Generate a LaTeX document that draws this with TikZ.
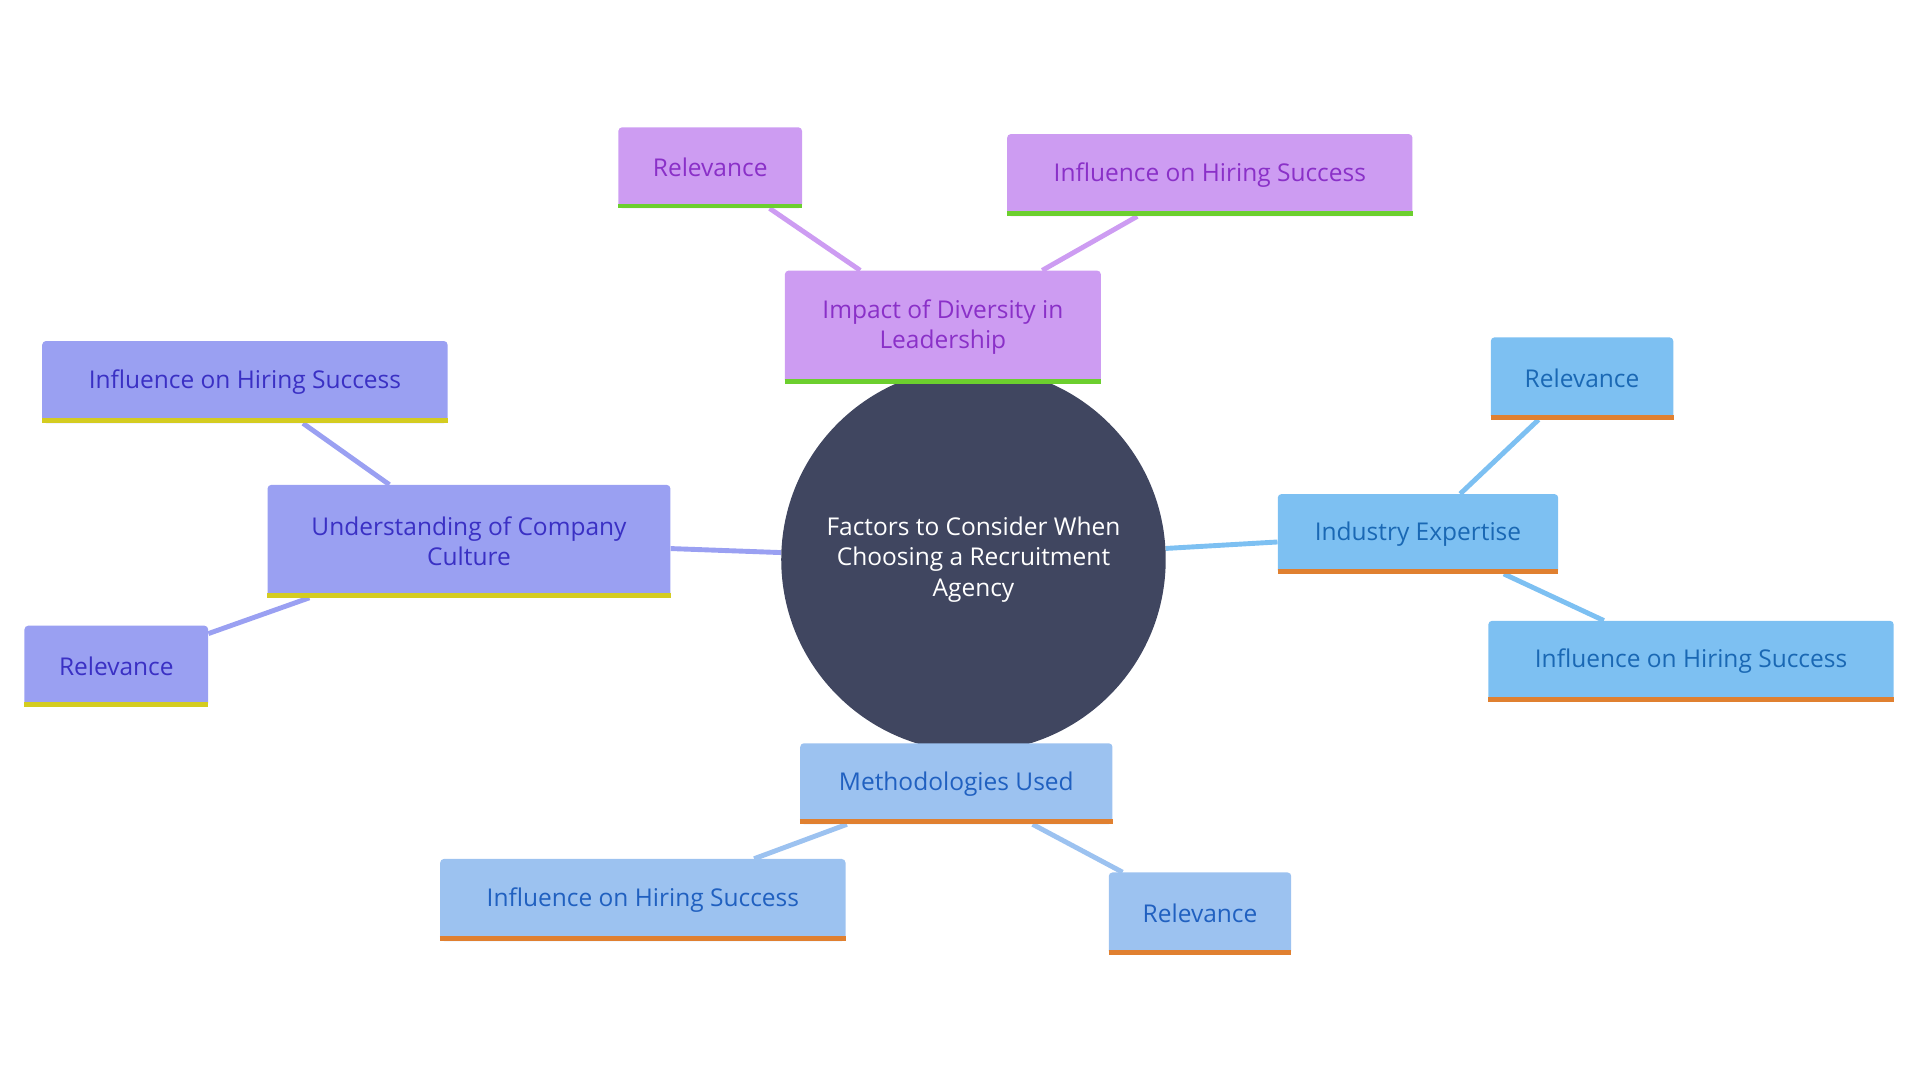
\documentclass[tikz,border=0pt]{standalone}
\usepackage{fontspec}
\setmainfont{Open Sans}
\usetikzlibrary{backgrounds}
\definecolor{cen}{HTML}{404660}
\definecolor{pf}{HTML}{CD9CF2}\definecolor{pt}{HTML}{8A30C8}\definecolor{pb}{HTML}{6CCF2E}
\definecolor{bf}{HTML}{9AA0F2}\definecolor{bt}{HTML}{3A30C4}\definecolor{bb}{HTML}{D4CC20}
\definecolor{cf}{HTML}{7DC0F2}\definecolor{ct}{HTML}{1A68B4}\definecolor{ob}{HTML}{E08030}
\definecolor{mf}{HTML}{9CC2F0}\definecolor{mt}{HTML}{2060C0}
\begin{document}
\begin{tikzpicture}[x=1pt,y=-1pt,
 box/.style={rectangle,rounded corners=3pt,inner sep=0pt,align=center,font=\fontsize{20}{25}\selectfont},
 edge/.style={line width=4pt}]
\useasboundingbox (0,0) rectangle (1568,882);
\node[circle,fill=cen,minimum size=314pt,text=white,align=center,font=\fontsize{20}{25}\selectfont] (c) at (795,457) {Factors to Consider When\\Choosing a Recruitment\\Agency};
% purple
\node[box,fill=pf,text=pt,minimum width=258pt,minimum height=92pt] (d) at (770,267) {Impact of Diversity in\\Leadership};
\node[box,fill=pf,text=pt,minimum width=150pt,minimum height=66pt] (d1) at (580,137) {Relevance};
\node[box,fill=pf,text=pt,minimum width=331pt,minimum height=67pt] (d2) at (988,143) {Influence on Hiring Success};
% blue-violet
\node[box,fill=bf,text=bt,minimum width=329pt,minimum height=92pt] (u) at (383,442) {Understanding of Company\\Culture};
\node[box,fill=bf,text=bt,minimum width=331pt,minimum height=67pt] (u1) at (200,312) {Influence on Hiring Success};
\node[box,fill=bf,text=bt,minimum width=150pt,minimum height=66pt] (u2) at (95,544) {Relevance};
% light blue
\node[box,fill=cf,text=ct,minimum width=229pt,minimum height=65pt] (i) at (1158,436) {Industry Expertise};
\node[box,fill=cf,text=ct,minimum width=149pt,minimum height=67pt] (i1) at (1292,309) {Relevance};
\node[box,fill=cf,text=ct,minimum width=331pt,minimum height=66pt] (i2) at (1381,540) {Influence on Hiring Success};
% method
\node[box,fill=mf,text=mt,minimum width=255pt,minimum height=66pt] (m) at (781,640) {Methodologies Used};
\node[box,fill=mf,text=mt,minimum width=331pt,minimum height=67pt] (m1) at (525,735) {Influence on Hiring Success};
\node[box,fill=mf,text=mt,minimum width=149pt,minimum height=67pt] (m2) at (980,746) {Relevance};
\begin{scope}[on background layer]
 \draw[edge,pf] (c)--(d); \draw[edge,pf] (d1)--(d); \draw[edge,pf] (d2)--(d);
 \draw[edge,bf] (c)--(u); \draw[edge,bf] (u1)--(u); \draw[edge,bf] (u2)--(u);
 \draw[edge,cf] (c)--(i); \draw[edge,cf] (i1)--(i); \draw[edge,cf] (i2)--(i);
 \draw[edge,mf] (c)--(m); \draw[edge,mf] (m1)--(m); \draw[edge,mf] (m2)--(m);
\end{scope}
\foreach \n/\col in {d/pb,d1/pb,d2/pb,u/bb,u1/bb,u2/bb,i/ob,i1/ob,i2/ob,m/ob,m1/ob,m2/ob}
 \draw[\col,line width=4pt] ([yshift=2pt]\n.south west) -- ([yshift=2pt]\n.south east);
\end{tikzpicture}
\end{document}
